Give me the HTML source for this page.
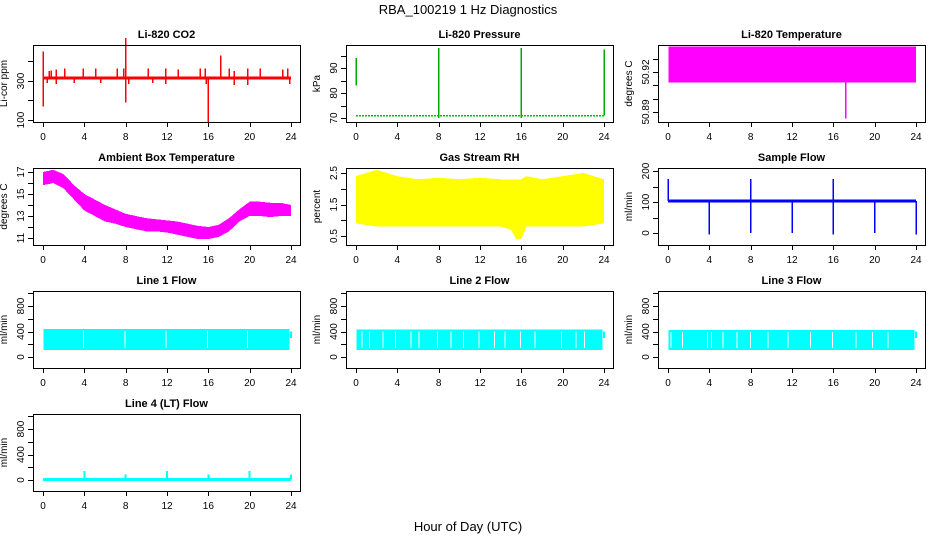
<!DOCTYPE html>
<html><head><meta charset="utf-8"><style>
html,body{margin:0;padding:0;background:#fff;}
svg{display:block;font-family:"Liberation Sans",sans-serif;}
</style></head><body>
<svg id="chart" width="936" height="540" viewBox="0 0 936 540">
<text x="468" y="14" text-anchor="middle" font-size="13">RBA_100219  1 Hz Diagnostics</text>
<text x="468" y="531" text-anchor="middle" font-size="13">Hour of Day (UTC)</text>
</svg>
<script>
// ---- data ----
const xTicks = [0,4,8,12,16,20,24];
const co2Base = 315;
const co2SpikeHours = [0,0,8,8,16,0.6,0.8,1.3,2.1,3.9,5.1,7.2,7.8,10.2,11.9,13.1,15.2,15.7,17.2,18.0,18.5,19.8,21.0,23.2,23.7,0.4,1.3,3.0,5.6,8.3,10.6,11.9,15.8,18.5,19.8,23.9];
const co2SpikeValues = [450,170,520,190,85,350,355,360,365,365,365,365,365,365,365,360,365,365,430,365,350,365,365,360,365,290,285,290,290,285,290,285,285,280,280,285];
const presBase = 71;
const presHours = [0,8,16,24];
const presLow = [83,70,70,71];
const presHigh = [94,98,98,97.5];
const tempBandLow = 50.912, tempBandHigh = 50.939;
const tempSpikeHour = 17.2, tempSpikeValue = 50.885;
const ambHours = [0,1,2,3,4,5,6,7,8,9,10,11,12,13,14,15,16,17,18,19,20,21,22,23,24];
const ambLow = [15.8,16.0,15.5,14.5,13.5,13.0,12.5,12.3,12.0,11.8,11.6,11.6,11.5,11.3,11.1,10.9,10.9,11.1,11.6,12.5,13.0,13.0,12.9,13.0,13.0];
const ambHigh = [17.0,17.2,16.8,15.8,15.0,14.5,14.0,13.6,13.2,13.0,12.8,12.7,12.6,12.5,12.3,12.1,12.0,12.2,12.8,13.6,14.3,14.3,14.2,14.2,14.0];
const rhHours = [0,2,4,6,8,10,12,14,15,15.5,16,16.5,18,20,22,24];
const rhLow = [0.9,0.8,0.8,0.8,0.8,0.8,0.8,0.8,0.7,0.4,0.4,0.8,0.8,0.8,0.8,0.9];
const rhHigh = [2.4,2.6,2.4,2.3,2.35,2.3,2.35,2.3,2.3,2.3,2.3,2.4,2.3,2.4,2.5,2.3];
const flowBase = 103;
const flowUpHours = [0,8,16];
const flowUpValues = [175,175,175];
const flowDownHours = [4,8,12,16,20,24];
const flowDownValues = [-5,0,0,-5,0,-5];
const l1Low = 110, l1High = 440;
const l1Gaps = [3.9,7.95,11.9,15.9,19.8];
const l2Low = 110, l2High = 430;
const l2Gaps = [0.6,1.3,2.6,3.8,5.3,6.1,7.9,9.2,10.4,11.9,13.4,14.4,15.9,17.3,19.9,21.3,22.1];
const l3Low = 110, l3High = 420;
const l3Gaps = [0.3,1.4,3.8,4.2,5.3,6.7,8.0,9.7,11.6,13.8,15.9,18.2,19.8,21.3];
const l4Base = 10;
const l4SpikeHours = [4,8,12,16,20,24];
const l4SpikeValues = [140,90,140,90,140,90];

// ---- layout ----
const NS = "http://www.w3.org/2000/svg";
const svg = document.getElementById('chart');
const colLeft = [33,346,658], rowTop = [45,168,291,414], W = 267, H = 77;
function mk(tag, attrs, parent){
  const e = document.createElementNS(NS, tag);
  for (const k in attrs) e.setAttribute(k, attrs[k]);
  (parent||svg).appendChild(e); return e;
}
function panel(col,row,title,ylab,lo,hi,ticks,labels){
  const L = colLeft[col], T = rowTop[row], B = T+H;
  const g = mk('g',{});
  
  
  const x = h => L + 10 + h*248/24;
  const y = v => B - (v-lo)/(hi-lo)*H;
  const t = mk('text',{x:L+W/2,y:T-7,'text-anchor':'middle','font-size':11,'font-weight':'bold'},g);
  t.textContent = title;
  
  
  const yl = mk('text',{transform:`translate(${L-26},${T+H/2}) rotate(-90)`,'text-anchor':'middle','font-size':10},g);
  yl.textContent = ylab;
  
  
  const plot = mk('g',{'shape-rendering':'crispEdges'},g);
  
  
  const ax = mk('g',{stroke:'#000','stroke-width':1,fill:'none','shape-rendering':'crispEdges'},g);
  
  
  mk('rect',{x:L+0.5,y:T+0.5,width:W,height:H},ax);
  mk('line',{x1:x(0),x2:x(24),y1:B+0.5,y2:B+0.5},ax);
  xTicks.forEach(h=>{
    mk('line',{x1:Math.round(x(h))+0.5,x2:Math.round(x(h))+0.5,y1:B,y2:B+5},ax);
    const tl = mk('text',{x:x(h),y:B+18,'text-anchor':'middle','font-size':10},g);
    tl.textContent = h;
    
    
  });
  mk('line',{x1:L+0.5,x2:L+0.5,y1:y(ticks[0]),y2:y(ticks[ticks.length-1])},ax);
  ticks.forEach(v=>{
    const yy = Math.round(y(v))+0.5;
    mk('line',{x1:L-5,x2:L,y1:yy,y2:yy},ax);
    if (labels.indexOf(v)>=0){
      const tl = mk('text',{transform:`translate(${L-9},${y(v)}) rotate(-90)`,'text-anchor':'middle','font-size':10},g);
      tl.textContent = v;
      
      
    }
  });
  return {x,y,plot};
}
function vline(p,h,v1,v2,color,w){
  const l = mk('line',{x1:p.x(h),x2:p.x(h),y1:p.y(v1),y2:p.y(v2),stroke:color,'stroke-width':w||1.5},p.plot);
  
  
}
function hline(p,v,color,w,dash){
  const l = mk('line',{x1:p.x(0),x2:p.x(24),y1:p.y(v),y2:p.y(v),stroke:color,'stroke-width':w,'stroke-dasharray':dash||'none'},p.plot);
  
  
}
function band(p,hours,lows,highs,color){
  const pts = hours.map((h,i)=>p.x(h)+','+p.y(highs[i])).concat(hours.slice().reverse().map((h,i)=>p.x(h)+','+p.y(lows[lows.length-1-i])));
  const pg = mk('polygon',{points:pts.join(' '),fill:color},p.plot);
  
  
}
function flowPanel(col,row,title,low,high,gaps){
  const p = panel(col,row,title,'ml/min',-172.5,1035.6,[0,200,400,600,800,1000],[0,400,800]);
  band(p,[0.05,23.85],[low,low],[high,high],'#00ffff');
  gaps.forEach(h=>vline(p,h,low+30,high-30,'#fff',1));
  vline(p,24,300,400,'#00ffff',2);
}

// ---- panels ----
let p;
p = panel(0,0,'Li-820 CO2','Li-cor ppm',89.7,484.6,[100,200,300,400],[100,300]);
co2SpikeHours.forEach((h,i)=>vline(p,h,co2Base,co2SpikeValues[i],'#ff0000',1.5));
hline(p,co2Base,'#ff0000',3);

p = panel(1,0,'Li-820 Pressure','kPa',68.4,99.2,[70,75,80,85,90,95],[70,80,90]);
hline(p,presBase,'#00bb00',1.5,'2,1');
presHours.forEach((h,i)=>vline(p,h,presLow[i],presHigh[i],'#00aa00',1.5));

p = panel(2,0,'Li-820 Temperature','degrees C',50.8825,50.94025,[50.89,50.90,50.91,50.92,50.93],[50.89,50.92]);
band(p,[0.05,24],[tempBandLow,tempBandLow],[tempBandHigh,tempBandHigh],'#ff00ff');
vline(p,tempSpikeHour,tempBandLow,tempSpikeValue,'#ff00ff',1.2);

p = panel(0,1,'Ambient Box Temperature','degrees C',10.364,17.364,[11,12,13,14,15,16,17],[11,13,15,17]);
band(p,ambHours,ambLow,ambHigh,'#ff00ff');

p = panel(1,1,'Gas Stream RH','percent',0.214,2.659,[0.5,1,1.5,2,2.5],[0.5,1.5,2.5]);
band(p,rhHours,rhLow,rhHigh,'#ffff00');

p = panel(2,1,'Sample Flow','ml/min',-38.7,209.7,[0,50,100,150,200],[0,100,200]);
hline(p,flowBase,'#0000ff',3);
flowUpHours.forEach((h,i)=>vline(p,h,flowBase,flowUpValues[i],'#0000ff',1.5));
flowDownHours.forEach((h,i)=>vline(p,h,flowBase,flowDownValues[i],'#0000ff',1.5));

flowPanel(0,2,'Line 1 Flow',l1Low,l1High,l1Gaps);
flowPanel(1,2,'Line 2 Flow',l2Low,l2High,l2Gaps);
flowPanel(2,2,'Line 3 Flow',l3Low,l3High,l3Gaps);

p = panel(0,3,'Line 4 (LT) Flow','ml/min',-172.5,1035.6,[0,200,400,600,800,1000],[0,400,800]);
hline(p,l4Base,'#00ffff',3);
l4SpikeHours.forEach((h,i)=>vline(p,h,l4Base,l4SpikeValues[i],'#00ffff',2));
</script>
</body></html>
